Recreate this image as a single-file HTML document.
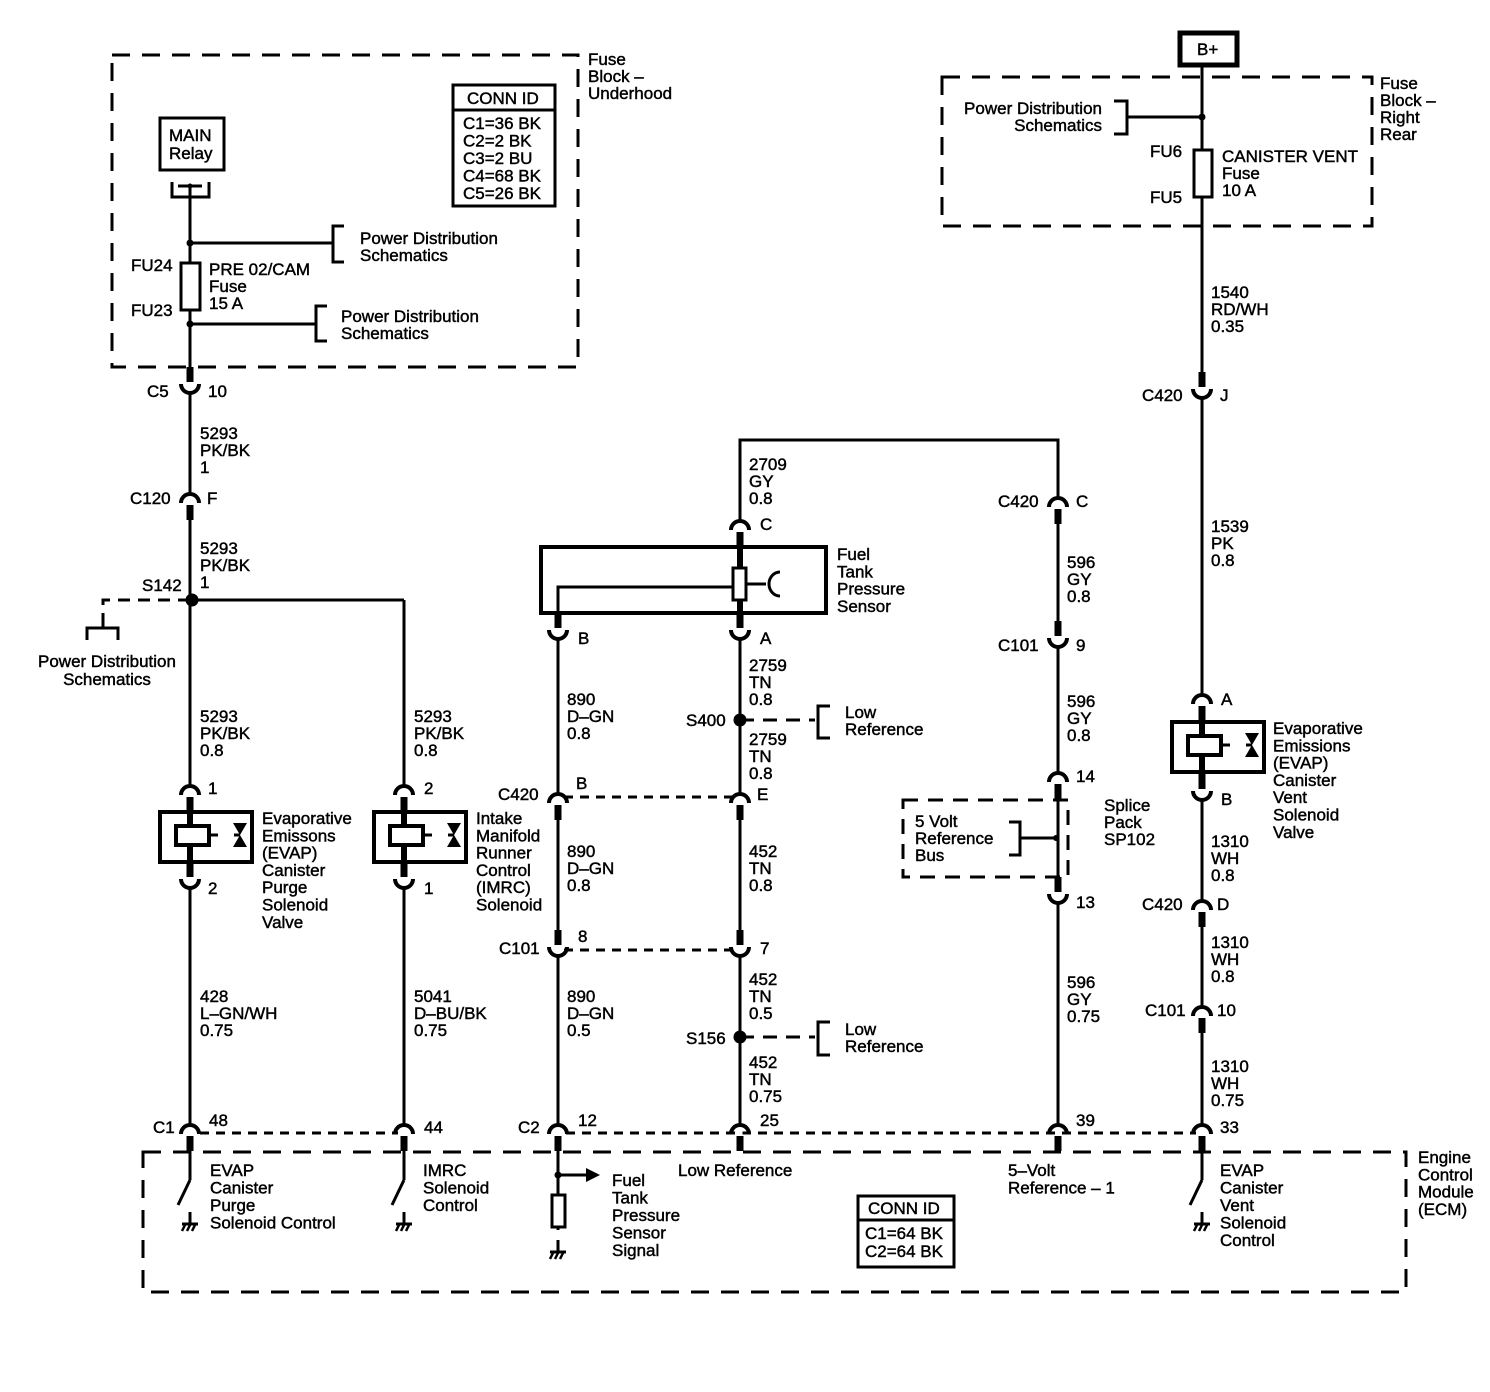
<!DOCTYPE html>
<html><head><meta charset="utf-8"><style>
html,body{margin:0;padding:0;background:#fff}
svg{display:block}
text{font-family:"Liberation Sans",Arial,sans-serif;font-size:17px;fill:#000;stroke:#000;stroke-width:0.45px;letter-spacing:0}
</style></head><body>
<svg width="1490" height="1392" viewBox="0 0 1490 1392" xmlns="http://www.w3.org/2000/svg">
<defs>
<g id="cn"><rect x="-2.5" y="-3" width="5" height="11" fill="#fff"/><path d="M-9 6 A9 9 0 0 1 9 6" fill="none" stroke="#000" stroke-width="4"/><rect x="-3.5" y="8" width="7" height="15" fill="#000"/></g>
<g id="cu"><rect x="-2.5" y="-8" width="5" height="11" fill="#fff"/><path d="M-9 -6 A9 9 0 0 0 9 -6" fill="none" stroke="#000" stroke-width="4"/><rect x="-3.5" y="-23" width="7" height="15" fill="#000"/></g>
<g id="sol"><rect x="-30" y="0" width="92" height="50" fill="#fff" stroke="#000" stroke-width="4"/><rect x="-14" y="14" width="33" height="19" fill="#fff" stroke="#000" stroke-width="4"/><line x1="0" y1="-2" x2="0" y2="14" stroke="#000" stroke-width="6"/><line x1="0" y1="33" x2="0" y2="52" stroke="#000" stroke-width="6"/><line x1="19" y1="23" x2="28" y2="23" stroke="#000" stroke-width="3"/><polygon points="43,11 57,11 50,23" fill="#000"/><polygon points="43,35 57,35 50,23" fill="#000"/><line x1="44" y1="23" x2="50" y2="23" stroke="#000" stroke-width="3"/></g>
<g id="gnd"><line x1="0" y1="0" x2="0" y2="12" stroke="#000" stroke-width="3"/><line x1="-8" y1="12" x2="8" y2="12" stroke="#000" stroke-width="3"/><line x1="-5" y1="13" x2="-8" y2="19" stroke="#000" stroke-width="2.5"/><line x1="0" y1="13" x2="-3" y2="19" stroke="#000" stroke-width="2.5"/><line x1="5" y1="13" x2="2" y2="19" stroke="#000" stroke-width="2.5"/></g>
<g id="sw"><line x1="0" y1="0" x2="0" y2="30" stroke="#000" stroke-width="3"/><line x1="0" y1="30" x2="-12" y2="55" stroke="#000" stroke-width="3"/><use href="#gnd" y="62"/></g>
</defs>

<g fill="none" stroke="#000" stroke-width="3">
<rect x="112" y="55" width="466" height="312" stroke-dasharray="18,12"/>
<rect x="942" y="77" width="430" height="149" stroke-dasharray="18,12"/>
<rect x="143" y="1152" width="1263" height="140" stroke-dasharray="18,12"/>
<rect x="903" y="800" width="165" height="77" stroke-dasharray="15,10"/>
<line x1="190" y1="186" x2="190" y2="1150"/>
<line x1="190" y1="243" x2="333" y2="243"/>
<path d="M344 226 H333 V262 H344"/>
<line x1="190" y1="324" x2="316" y2="324"/>
<path d="M327 306 H316 V341 H327"/>
<line x1="190" y1="600" x2="404" y2="600"/>
<path d="M190 600 H103 V620" stroke-dasharray="12,8"/>
<path d="M87 640 V628 H118 V640"/><line x1="103" y1="620" x2="103" y2="628"/>
<line x1="404" y1="600" x2="404" y2="1150"/>
<path d="M172 182 V197 H209 V182"/>
<line x1="178" y1="186" x2="202" y2="186"/>
<line x1="558" y1="613" x2="558" y2="1230"/>
<path d="M740 548 V440 H1058 V1150"/>
<line x1="740" y1="547" x2="740" y2="1150"/>
<path d="M558 613 V587 H733"/>
<line x1="746" y1="584" x2="766" y2="584"/>
<path d="M780 572 A11 12 0 0 0 780 596"/>
<path d="M740 720 H815" stroke-dasharray="14,9"/>
<path d="M830 706 H818 V738 H830"/>
<path d="M740 1037 H815" stroke-dasharray="14,9"/>
<path d="M830 1022 H818 V1055 H830"/>
<line x1="564" y1="797" x2="735" y2="797" stroke-dasharray="9,7"/>
<line x1="564" y1="950" x2="735" y2="950" stroke-dasharray="9,7"/>
<line x1="200" y1="1133" x2="398" y2="1133" stroke-dasharray="9,7"/>
<line x1="566" y1="1133" x2="1196" y2="1133" stroke-dasharray="9,7"/>
<path d="M1009 822 H1020 V855 H1009"/>
<line x1="1020" y1="838" x2="1055" y2="838"/>
<line x1="1202" y1="66" x2="1202" y2="1150"/>
<line x1="1202" y1="117" x2="1127" y2="117"/>
<path d="M1114 101 H1127 V134 H1114"/>
<line x1="558" y1="1175" x2="588" y2="1175"/>
</g>
<polygon points="586,1168 600,1175 586,1182" fill="#000"/>
<rect x="552" y="1195" width="13" height="32" fill="#fff" stroke="#000" stroke-width="3"/>
<use href="#gnd" x="558" y="1240"/>
<use href="#sw" x="190" y="1150"/>
<use href="#sw" x="404" y="1150"/>
<use href="#sw" x="1202" y="1150"/>

<rect x="541" y="547" width="285" height="66" fill="none" stroke="#000" stroke-width="4"/>
<line x1="740" y1="545" x2="740" y2="615" stroke="#000" stroke-width="6"/>
<rect x="733" y="568" width="13" height="32" fill="#fff" stroke="#000" stroke-width="3"/>

<rect x="181" y="263" width="19" height="47" fill="#fff" stroke="#000" stroke-width="3"/>
<rect x="1194" y="150" width="18" height="47" fill="#fff" stroke="#000" stroke-width="3"/>

<rect x="160" y="118" width="64" height="52" fill="#fff" stroke="#000" stroke-width="3"/>
<rect x="1180" y="33" width="57" height="32" fill="#fff" stroke="#000" stroke-width="5"/>
<rect x="453" y="85" width="102" height="121" fill="#fff" stroke="#000" stroke-width="3"/>
<line x1="453" y1="110" x2="555" y2="110" stroke="#000" stroke-width="3"/>
<rect x="858" y="1196" width="96" height="71" fill="#fff" stroke="#000" stroke-width="3"/>
<line x1="858" y1="1220" x2="954" y2="1220" stroke="#000" stroke-width="3"/>

<g fill="#000">
<circle cx="190" cy="186" r="2.5"/>
<circle cx="190" cy="243" r="3.5"/><circle cx="190" cy="324" r="3.5"/>
<circle cx="192" cy="600" r="6.5"/>
<circle cx="740" cy="720" r="6.5"/><circle cx="740" cy="1037" r="6.5"/>
<circle cx="1202" cy="117" r="3.5"/><circle cx="1056" cy="838" r="3"/>
<circle cx="558" cy="1175" r="3.5"/>
</g>

<use href="#sol" x="190" y="812"/>
<use href="#sol" x="404" y="812"/>
<use href="#sol" x="1202" y="722"/>

<use href="#cu" x="190" y="390"/>
<use href="#cn" x="190" y="497"/>
<use href="#cn" x="190" y="789"/>
<use href="#cu" x="190" y="885"/>
<use href="#cn" x="190" y="1128"/>
<use href="#cn" x="404" y="789"/>
<use href="#cu" x="404" y="885"/>
<use href="#cn" x="404" y="1128"/>
<use href="#cu" x="558" y="636"/>
<use href="#cn" x="558" y="797"/>
<use href="#cu" x="558" y="953"/>
<use href="#cn" x="558" y="1128"/>
<use href="#cn" x="740" y="524"/>
<use href="#cu" x="740" y="636"/>
<use href="#cn" x="740" y="797"/>
<use href="#cu" x="740" y="953"/>
<use href="#cn" x="740" y="1128"/>
<use href="#cn" x="1058" y="501"/>
<use href="#cu" x="1058" y="644"/>
<use href="#cn" x="1058" y="776"/>
<use href="#cu" x="1058" y="900"/>
<use href="#cn" x="1058" y="1128"/>
<use href="#cu" x="1202" y="395"/>
<use href="#cn" x="1202" y="698"/>
<use href="#cu" x="1202" y="797"/>
<use href="#cn" x="1202" y="904"/>
<use href="#cn" x="1202" y="1010"/>
<use href="#cn" x="1202" y="1128"/>

<text x="588" y="65"><tspan x="588">Fuse</tspan><tspan x="588" dy="17">Block –</tspan><tspan x="588" dy="17">Underhood</tspan></text>
<text x="467" y="104">CONN ID</text>
<text x="463" y="129"><tspan x="463">C1=36 BK</tspan><tspan x="463" dy="17.5">C2=2 BK</tspan><tspan x="463" dy="17.5">C3=2 BU</tspan><tspan x="463" dy="17.5">C4=68 BK</tspan><tspan x="463" dy="17.5">C5=26 BK</tspan></text>
<text x="169" y="141"><tspan x="169">MAIN</tspan><tspan x="169" dy="18">Relay</tspan></text>
<text x="360" y="244"><tspan x="360">Power Distribution</tspan><tspan x="360" dy="17">Schematics</tspan></text>
<text x="341" y="322"><tspan x="341">Power Distribution</tspan><tspan x="341" dy="17">Schematics</tspan></text>
<text x="131" y="271">FU24</text><text x="131" y="316">FU23</text>
<text x="209" y="275"><tspan x="209">PRE 02/CAM</tspan><tspan x="209" dy="17">Fuse</tspan><tspan x="209" dy="17">15 A</tspan></text>
<text x="147" y="397">C5</text><text x="208" y="397">10</text>
<text x="200" y="439"><tspan x="200">5293</tspan><tspan x="200" dy="17">PK/BK</tspan><tspan x="200" dy="17">1</tspan></text>
<text x="130" y="504">C120</text><text x="207" y="504">F</text>
<text x="200" y="554"><tspan x="200">5293</tspan><tspan x="200" dy="17">PK/BK</tspan><tspan x="200" dy="17">1</tspan></text>
<text x="142" y="591">S142</text>
<text x="107" y="667" text-anchor="middle"><tspan x="107">Power Distribution</tspan><tspan x="107" dy="18">Schematics</tspan></text>
<text x="200" y="722"><tspan x="200">5293</tspan><tspan x="200" dy="17">PK/BK</tspan><tspan x="200" dy="17">0.8</tspan></text>
<text x="414" y="722"><tspan x="414">5293</tspan><tspan x="414" dy="17">PK/BK</tspan><tspan x="414" dy="17">0.8</tspan></text>
<text x="208" y="794">1</text><text x="208" y="894">2</text>
<text x="424" y="794">2</text><text x="424" y="894">1</text>
<text x="262" y="824"><tspan x="262">Evaporative</tspan><tspan x="262" dy="17.3">Emissons</tspan><tspan x="262" dy="17.3">(EVAP)</tspan><tspan x="262" dy="17.3">Canister</tspan><tspan x="262" dy="17.3">Purge</tspan><tspan x="262" dy="17.3">Solenoid</tspan><tspan x="262" dy="17.3">Valve</tspan></text>
<text x="476" y="824"><tspan x="476">Intake</tspan><tspan x="476" dy="17.3">Manifold</tspan><tspan x="476" dy="17.3">Runner</tspan><tspan x="476" dy="17.3">Control</tspan><tspan x="476" dy="17.3">(IMRC)</tspan><tspan x="476" dy="17.3">Solenoid</tspan></text>
<text x="200" y="1002"><tspan x="200">428</tspan><tspan x="200" dy="17">L–GN/WH</tspan><tspan x="200" dy="17">0.75</tspan></text>
<text x="414" y="1002"><tspan x="414">5041</tspan><tspan x="414" dy="17">D–BU/BK</tspan><tspan x="414" dy="17">0.75</tspan></text>
<text x="153" y="1133">C1</text><text x="209" y="1126">48</text>
<text x="424" y="1133">44</text>
<text x="210" y="1176"><tspan x="210">EVAP</tspan><tspan x="210" dy="17.5">Canister</tspan><tspan x="210" dy="17.5">Purge</tspan><tspan x="210" dy="17.5">Solenoid Control</tspan></text>
<text x="423" y="1176"><tspan x="423">IMRC</tspan><tspan x="423" dy="17.5">Solenoid</tspan><tspan x="423" dy="17.5">Control</tspan></text>
<text x="612" y="1186"><tspan x="612">Fuel</tspan><tspan x="612" dy="17.5">Tank</tspan><tspan x="612" dy="17.5">Pressure</tspan><tspan x="612" dy="17.5">Sensor</tspan><tspan x="612" dy="17.5">Signal</tspan></text>
<text x="678" y="1176">Low Reference</text>
<text x="1008" y="1176"><tspan x="1008">5–Volt</tspan><tspan x="1008" dy="17.5">Reference – 1</tspan></text>
<text x="1220" y="1176"><tspan x="1220">EVAP</tspan><tspan x="1220" dy="17.5">Canister</tspan><tspan x="1220" dy="17.5">Vent</tspan><tspan x="1220" dy="17.5">Solenoid</tspan><tspan x="1220" dy="17.5">Control</tspan></text>
<text x="868" y="1214">CONN ID</text>
<text x="865" y="1239"><tspan x="865">C1=64 BK</tspan><tspan x="865" dy="18">C2=64 BK</tspan></text>
<text x="1418" y="1163"><tspan x="1418">Engine</tspan><tspan x="1418" dy="17.3">Control</tspan><tspan x="1418" dy="17.3">Module</tspan><tspan x="1418" dy="17.3">(ECM)</tspan></text>
<text x="518" y="1133">C2</text><text x="578" y="1126">12</text>
<text x="760" y="1126">25</text><text x="1076" y="1126">39</text><text x="1220" y="1133">33</text>
<text x="749" y="470"><tspan x="749">2709</tspan><tspan x="749" dy="17">GY</tspan><tspan x="749" dy="17">0.8</tspan></text>
<text x="760" y="530">C</text>
<text x="837" y="560"><tspan x="837">Fuel</tspan><tspan x="837" dy="17.3">Tank</tspan><tspan x="837" dy="17.3">Pressure</tspan><tspan x="837" dy="17.3">Sensor</tspan></text>
<text x="578" y="644">B</text><text x="760" y="644">A</text>
<text x="749" y="671"><tspan x="749">2759</tspan><tspan x="749" dy="17">TN</tspan><tspan x="749" dy="17">0.8</tspan></text>
<text x="686" y="726">S400</text>
<text x="845" y="718"><tspan x="845">Low</tspan><tspan x="845" dy="17">Reference</tspan></text>
<text x="749" y="745"><tspan x="749">2759</tspan><tspan x="749" dy="17">TN</tspan><tspan x="749" dy="17">0.8</tspan></text>
<text x="567" y="705"><tspan x="567">890</tspan><tspan x="567" dy="17">D–GN</tspan><tspan x="567" dy="17">0.8</tspan></text>
<text x="498" y="800">C420</text><text x="576" y="789">B</text><text x="757" y="800">E</text>
<text x="567" y="857"><tspan x="567">890</tspan><tspan x="567" dy="17">D–GN</tspan><tspan x="567" dy="17">0.8</tspan></text>
<text x="749" y="857"><tspan x="749">452</tspan><tspan x="749" dy="17">TN</tspan><tspan x="749" dy="17">0.8</tspan></text>
<text x="499" y="954">C101</text><text x="578" y="942">8</text><text x="760" y="954">7</text>
<text x="567" y="1002"><tspan x="567">890</tspan><tspan x="567" dy="17">D–GN</tspan><tspan x="567" dy="17">0.5</tspan></text>
<text x="749" y="985"><tspan x="749">452</tspan><tspan x="749" dy="17">TN</tspan><tspan x="749" dy="17">0.5</tspan></text>
<text x="686" y="1044">S156</text>
<text x="845" y="1035"><tspan x="845">Low</tspan><tspan x="845" dy="17">Reference</tspan></text>
<text x="749" y="1068"><tspan x="749">452</tspan><tspan x="749" dy="17">TN</tspan><tspan x="749" dy="17">0.75</tspan></text>
<text x="998" y="507">C420</text><text x="1076" y="507">C</text>
<text x="1067" y="568"><tspan x="1067">596</tspan><tspan x="1067" dy="17">GY</tspan><tspan x="1067" dy="17">0.8</tspan></text>
<text x="998" y="651">C101</text><text x="1076" y="651">9</text>
<text x="1067" y="707"><tspan x="1067">596</tspan><tspan x="1067" dy="17">GY</tspan><tspan x="1067" dy="17">0.8</tspan></text>
<text x="1076" y="782">14</text>
<text x="1104" y="811"><tspan x="1104">Splice</tspan><tspan x="1104" dy="17">Pack</tspan><tspan x="1104" dy="17">SP102</tspan></text>
<text x="915" y="827"><tspan x="915">5 Volt</tspan><tspan x="915" dy="17">Reference</tspan><tspan x="915" dy="17">Bus</tspan></text>
<text x="1076" y="908">13</text>
<text x="1067" y="988"><tspan x="1067">596</tspan><tspan x="1067" dy="17">GY</tspan><tspan x="1067" dy="17">0.75</tspan></text>
<text x="1197" y="55">B+</text>
<text x="1380" y="89"><tspan x="1380">Fuse</tspan><tspan x="1380" dy="17">Block –</tspan><tspan x="1380" dy="17">Right</tspan><tspan x="1380" dy="17">Rear</tspan></text>
<text x="1102" y="114" text-anchor="end"><tspan x="1102">Power Distribution</tspan><tspan x="1102" dy="17">Schematics</tspan></text>
<text x="1150" y="157">FU6</text><text x="1150" y="203">FU5</text>
<text x="1222" y="162"><tspan x="1222">CANISTER VENT</tspan><tspan x="1222" dy="17">Fuse</tspan><tspan x="1222" dy="17">10 A</tspan></text>
<text x="1211" y="298"><tspan x="1211">1540</tspan><tspan x="1211" dy="17">RD/WH</tspan><tspan x="1211" dy="17">0.35</tspan></text>
<text x="1142" y="401">C420</text><text x="1220" y="401">J</text>
<text x="1211" y="532"><tspan x="1211">1539</tspan><tspan x="1211" dy="17">PK</tspan><tspan x="1211" dy="17">0.8</tspan></text>
<text x="1221" y="705">A</text><text x="1221" y="805">B</text>
<text x="1273" y="734"><tspan x="1273">Evaporative</tspan><tspan x="1273" dy="17.3">Emissions</tspan><tspan x="1273" dy="17.3">(EVAP)</tspan><tspan x="1273" dy="17.3">Canister</tspan><tspan x="1273" dy="17.3">Vent</tspan><tspan x="1273" dy="17.3">Solenoid</tspan><tspan x="1273" dy="17.3">Valve</tspan></text>
<text x="1211" y="847"><tspan x="1211">1310</tspan><tspan x="1211" dy="17">WH</tspan><tspan x="1211" dy="17">0.8</tspan></text>
<text x="1142" y="910">C420</text><text x="1217" y="910">D</text>
<text x="1211" y="948"><tspan x="1211">1310</tspan><tspan x="1211" dy="17">WH</tspan><tspan x="1211" dy="17">0.8</tspan></text>
<text x="1145" y="1016">C101</text><text x="1217" y="1016">10</text>
<text x="1211" y="1072"><tspan x="1211">1310</tspan><tspan x="1211" dy="17">WH</tspan><tspan x="1211" dy="17">0.75</tspan></text>
</svg>
</body></html>
